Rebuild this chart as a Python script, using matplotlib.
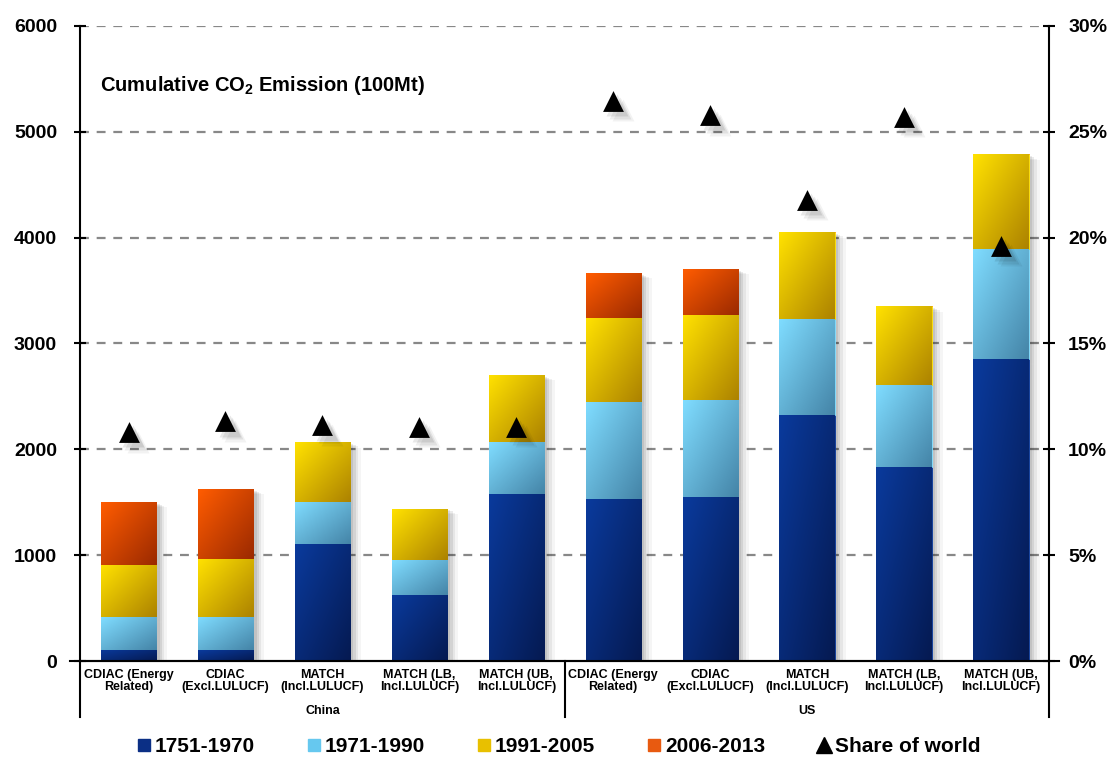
import numpy as np
import matplotlib
matplotlib.use("Agg")
import matplotlib.pyplot as plt
from matplotlib.colors import LinearSegmentedColormap
from matplotlib.transforms import ScaledTranslation, blended_transform_factory
from matplotlib.lines import Line2D

plt.rcParams['font.family'] = ['Liberation Sans', 'DejaVu Sans']
plt.rcParams['mathtext.fontset'] = 'custom'
plt.rcParams['mathtext.bf'] = 'Liberation Sans:bold'

# data
groups = ["China", "US"]
methods = ["CDIAC (Energy\nRelated)", "CDIAC\n(Excl.LULUCF)", "MATCH\n(Incl.LULUCF)",
           "MATCH (LB,\nIncl.LULUCF)", "MATCH (UB,\nIncl.LULUCF)"]
periods = ["1751-1970", "1971-1990", "1991-2005", "2006-2013"]
p1751_1970 = [104, 100, 1103, 624, 1578, 1528, 1547, 2325, 1836, 2852]
p1971_1990 = [311, 316, 400, 331, 489, 917, 917, 910, 775, 1042]
p1991_2005 = [492, 548, 564, 485, 636, 797, 806, 817, 741, 892]
p2006_2013 = [596, 662, 0, 0, 0, 425, 435, 0, 0, 0]
share_world = [10.82, 11.32, 11.13, 11.07, 11.07, 26.47, 25.78, 21.79, 25.72, 19.62]

# bright (top-left) -> dark (bottom-right) for each period
grads = [("#0a3a9c", "#051a52"), ("#7fdcff", "#4585a8"),
         ("#ffe100", "#ad8300"), ("#ff5c00", "#9c2a00")]
flat = ["#0b2f85", "#66c8ef", "#e8c000", "#e85a10"]

labels = methods * len(groups)
x = np.arange(len(labels))
width = 0.57

fig = plt.figure(figsize=(11.07, 7.57), dpi=100)
ax = fig.add_axes([0.0723, 0.1268, 0.8757, 0.8389])
ax2 = ax.twinx()

ax.set_xlim(-0.5, len(labels) - 0.5)
ax.set_ylim(0, 6000)
ax.set_yticks(range(0, 6001, 1000))
for yv in range(1000, 6001, 1000):
    ax.axhline(yv, color="#888888", lw=1.6, ls=(0, (4, 3.5)), zorder=0)

g = np.add.outer(np.linspace(0, 1, 60), np.linspace(0, 1, 20)) / 2

bottom = np.zeros(len(labels))
for k, vals in enumerate([p1751_1970, p1971_1990, p1991_2005, p2006_2013]):
    vals = np.array(vals, dtype=float)
    # soft shadow
    for dx, a in [(8, 0.04), (6, 0.06), (4, 0.08), (2.5, 0.08)]:
        tr = ax.transData + ScaledTranslation(dx / 72, -dx / 2 / 72, fig.dpi_scale_trans)
        ax.bar(x, vals, width, bottom=bottom, color="black", alpha=a,
               lw=0, transform=tr, zorder=1)
    bars = ax.bar(x, vals, width, bottom=bottom, color=flat[k], lw=0.6,
                  edgecolor=grads[k][0], zorder=2)
    cmap = LinearSegmentedColormap.from_list("p%d" % k, list(grads[k]))
    for b, v in zip(bars, vals):
        if v <= 0:
            continue
        x0, y0 = b.get_x(), b.get_y()
        im = ax.imshow(g, cmap=cmap, vmin=0, vmax=1, aspect="auto", origin="upper",
                       extent=[x0, x0 + b.get_width(), y0, y0 + b.get_height()],
                       zorder=2.5, interpolation="bilinear")
        im.set_clip_path(b)
    bottom += vals

ax.set_xlim(-0.5, len(labels) - 0.5)
ax.set_ylim(0, 6000)

# share of world on right axis
ax2.set_ylim(0, 30)
ax2.set_yticks(range(0, 31, 5))
ax2.set_yticklabels(["%d%%" % v for v in range(0, 31, 5)])
for dx, a in [(7, 0.05), (5, 0.07), (3, 0.09)]:
    tr = ax2.transData + ScaledTranslation(dx / 72, -dx / 72, fig.dpi_scale_trans)
    ax2.scatter(x, share_world, marker="^", s=250, color="black", alpha=a,
                lw=0, transform=tr, zorder=3)
ax2.scatter(x, share_world, marker="^", s=225, color="black", lw=0, zorder=4)

# axes styling
for a_ in (ax, ax2):
    a_.spines["top"].set_visible(False)
ax.spines["left"].set_color("black")
ax.spines["left"].set_linewidth(1.5)
ax2.spines["left"].set_visible(False)
ax2.spines["right"].set_linewidth(1.5)
ax2.spines["bottom"].set_visible(False)
ax.spines["right"].set_visible(False)
ax.spines["bottom"].set_linewidth(1.5)

ax.tick_params(axis="y", direction="inout", length=9, width=1.5, color="black",
               labelsize=14, pad=12)
ax2.tick_params(axis="y", direction="inout", length=9, width=1.5, labelsize=14, pad=9)
for t in ax.get_yticklabels() + ax2.get_yticklabels():
    t.set_fontweight("bold")

ax.set_xticks(x)
ax.set_xticklabels(labels, fontsize=9, fontweight="bold",
                   family=["Liberation Sans Narrow", "Liberation Sans"], linespacing=1.0)
ax.tick_params(axis="x", length=0, pad=6)

# group separators and names
trb = blended_transform_factory(ax.transData, ax.transAxes)
for xv in [-0.5, 4.5, 9.5]:
    ax.plot([xv, xv], [0, -0.088], transform=trb, color="black", lw=1.5, clip_on=False)
ax.plot([-0.6, 9.6], [0, 0], transform=trb, color="black", lw=1.5, clip_on=False)
for gi, name in enumerate(groups):
    ax.text(gi * 5 + 2, -0.078, name, transform=trb, ha="center", va="center",
            fontsize=9, fontweight="bold",
            family=["Liberation Sans Narrow", "Liberation Sans"])

ax.text(0.021, 0.906, r"Cumulative CO$\mathbf{_2}$ Emission (100Mt)", transform=ax.transAxes,
        fontsize=14.5, fontweight="bold", ha="left", va="center")

# legend
handles = [Line2D([], [], marker="s", ls="", color=c, markersize=9) for c in flat]
handles.append(Line2D([], [], marker="^", ls="", color="black", markersize=11))
leg = fig.legend(handles, periods + ["Share of world"], loc="center",
                 bbox_to_anchor=(0.503, 0.014), ncol=5, frameon=False,
                 prop={"weight": "bold", "size": 15}, columnspacing=2.3,
                 handletextpad=0.05, handlelength=1.0, borderaxespad=0, borderpad=0.1)

fig.savefig("out.png", dpi=100)
